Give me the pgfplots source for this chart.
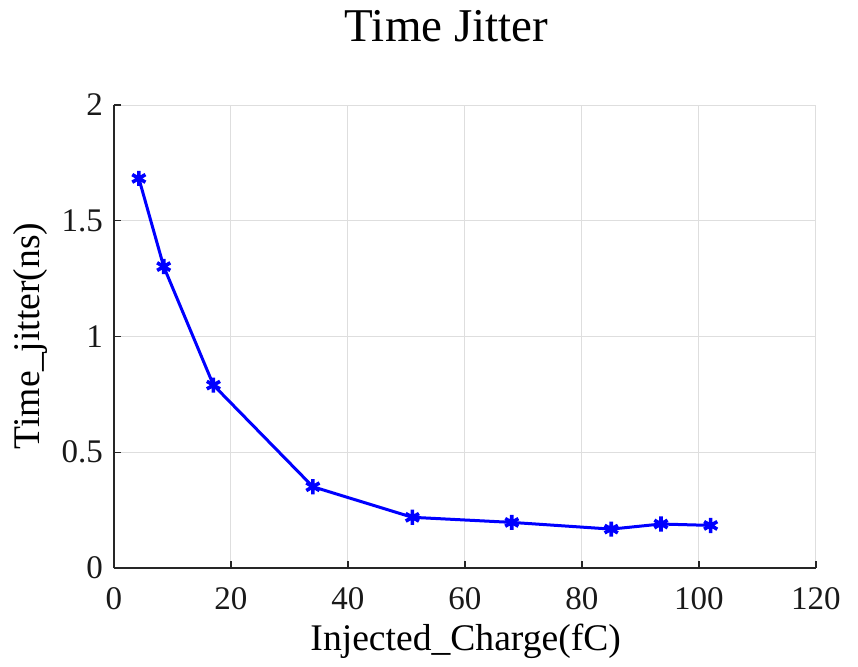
\documentclass[border=0pt]{standalone}
\usepackage{fontspec}
\setmainfont{Liberation Serif}
\usepackage{pgfplots}
\pgfplotsset{compat=1.18}

\definecolor{axisgray}{gray}{0.15}
\definecolor{gridgray}{gray}{0.87}

\begin{document}
\begin{tikzpicture}
\useasboundingbox (-57pt,-49pt) rectangle (372pt,284pt);
\begin{axis}[
    at={(0,0)}, anchor=origin,
    scale only axis,
    width=351pt, height=231.5pt,
    xmin=0, xmax=120, ymin=0, ymax=2,
    xtick={0,20,...,120},
    ytick={0,0.5,1,1.5,2},
    axis x line*=bottom, axis y line*=left,
    axis line style={axisgray, line width=0.6pt},
    tick align=inside,
    major tick length=3.5pt,
    tick style={axisgray, line width=0.6pt},
    grid=major,
    major grid style={gridgray, line width=0.5pt},
    /pgf/number format/assume math mode=true,
    tick label style={font=\fontsize{16.5}{19}\selectfont, text=black!90},
    xticklabel style={yshift=-6pt},
    yticklabel style={xshift=-2pt},
    xlabel={Injected\_Charge(fC)},
    ylabel={Time\_jitter(ns)},
    xlabel style={font=\fontsize{18.8}{22}\selectfont, at={(axis description cs:0.501,0)}, anchor=base, yshift=-41pt},
    ylabel style={font=\fontsize{18.8}{22}\selectfont, at={(axis description cs:0,0.501)}, anchor=base, yshift=37pt},
    title={Time Jitter},
    title style={font=\fontsize{23.5}{27}\selectfont, at={(axis description cs:0.4737,1)}, anchor=base, yshift=26pt},
]
\addplot[color=blue, line width=1.5pt, mark=asterisk, mark size=3.8pt,
         mark options={line width=1.8pt}]
    coordinates {(4.25,1.683)(8.5,1.302)(17,0.790)(34,0.351)(51,0.219)
                 (68,0.197)(85,0.168)(93.5,0.190)(102,0.184)};
\end{axis}
\end{tikzpicture}
\end{document}
